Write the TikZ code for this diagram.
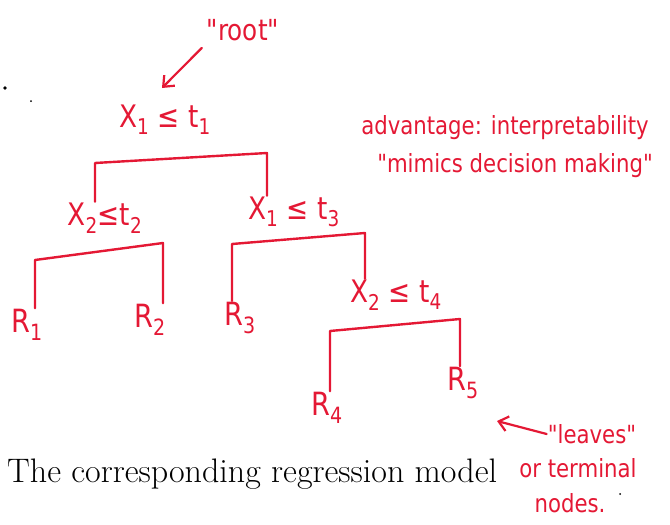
\documentclass[tikz,border=0pt]{standalone}
\usepackage{fontspec}
\usepackage{tikz}
\usetikzlibrary{arrows.meta,positioning}
\newfontfamily\hand[FakeStretch=0.85]{DejaVu Sans}
\definecolor{pen}{RGB}{228,24,52}

\tikzset{
  split/.style={text=pen, font=\hand\fontsize{31}{34}\selectfont, inner sep=1pt},
  leaf/.style={text=pen, font=\hand\fontsize{32}{34}\selectfont, inner sep=1pt},
  remark/.style={text=pen, font=\hand\fontsize{25}{28}\selectfont, inner sep=1pt},
  branch/.style={draw=pen, line width=2.4pt, line cap=round, line join=round},
  pointer/.style={draw=pen, line width=2.2pt, line cap=round, -{Straight Barb[length=9pt,width=15pt]}}
}

\begin{document}
\begin{tikzpicture}[x=1pt, y=-1pt]
\useasboundingbox (0,0) rectangle (670,525);

% tree
\node[split] (root) at (165,120) {X\textsubscript{1} ≤ t\textsubscript{1}};
\node[split] (s2) at (105,218) {X\textsubscript{2}≤t\textsubscript{2}};
\node[split] (s3) at (294,212) {X\textsubscript{1} ≤ t\textsubscript{3}};
\node[split] (s4) at (396,295) {X\textsubscript{2} ≤ t\textsubscript{4}};
\node[leaf] (r1) at (27,325) {R\textsubscript{1}};
\node[leaf] (r2) at (150,320) {R\textsubscript{2}};
\node[leaf] (r3) at (240,318) {R\textsubscript{3}};
\node[leaf] (r4) at (327,408) {R\textsubscript{4}};
\node[leaf] (r5) at (463,383) {R\textsubscript{5}};

\coordinate (b1l) at (95,163);  \coordinate (b1r) at (267,153);
\coordinate (b2l) at (35,260);  \coordinate (b2r) at (163,243);
\coordinate (b3l) at (232,244); \coordinate (b3r) at (365,233);
\coordinate (b4l) at (330,331); \coordinate (b4r) at (460,319);

\draw[branch] (b1l |- s2.north) -- (b1l) -- (b1r) -- (b1r |- s3.north);
\draw[branch] (b2l |- r1.north) -- (b2l) -- (b2r) -- (b2r |- r2.north);
\draw[branch] (b3l |- r3.north) -- (b3l) -- (b3r) -- (b3r |- s4.north);
\draw[branch] (b4l |- r4.north) -- (b4l) -- (b4r) -- (b4r |- r5.north);

% notes
\node[remark] (rootlbl) at (243,30) {\fontsize{29}{30}\selectfont "root"};
\coordinate (roottip) at (162,88);
\draw[pointer] (rootlbl.south west) ++(-4,6) coordinate (roottail) (roottail) -- (roottip);

\node[remark] (adv) at (505,128) {advantage: interpretability};
\node[remark] (mimic) at (515,166) {"mimics decision making"};

\node[remark] (leaves) at (592,434) {"leaves"};
\node[remark] (term) at (578,468) {or terminal};
\node[remark] (nodes) at (570,503) {nodes.};
\coordinate (leaftip) at (497,421);
\draw[pointer] (leaves.west) -- (leaftip);

% printed caption
\node[anchor=base west, inner sep=0pt, font=\fontsize{34}{40}\selectfont] (caption) at (7,482) {The corresponding regression model};

\fill (5,88) circle (1.8);
\fill (31,101) circle (1);
\fill (620,494) circle (1);
\end{tikzpicture}
\end{document}
